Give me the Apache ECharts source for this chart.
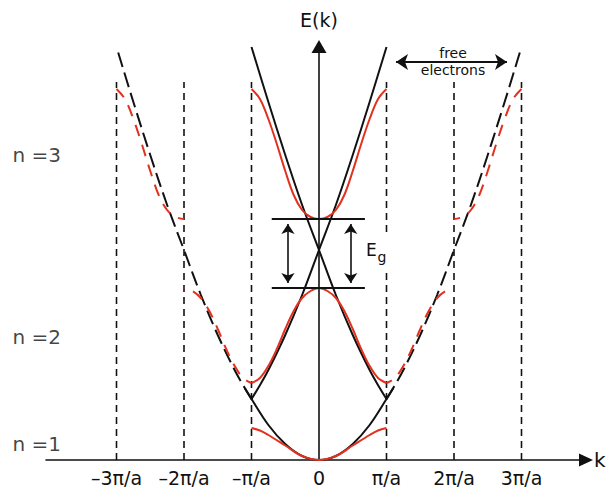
<!DOCTYPE html>
<html>
<head>
<meta charset="utf-8">
<script src="https://cdn.jsdelivr.net/npm/echarts@6/dist/echarts.min.js"></script>
<style>
  html, body { margin: 0; padding: 0; background: #fff; }
  #chart { width: 606px; height: 490px; }
</style>
</head>
<body>
<div id="chart"></div>
<script>
// Free-electron dispersion E(|k|), k in units of pi/a, E in arbitrary units
const freeK = [0, 0.25, 0.5, 0.75, 1, 1.1, 1.25, 1.5, 1.75, 2, 2.25, 2.5, 2.75, 3];
const freeE = [0, 4, 16, 35, 61, 72, 90, 125, 165, 210, 255, 305, 358, 413];

// Nearly-free-electron bands in the reduced zone, |k| from 0 to pi/a
const band1K = [0, 0.25, 0.5, 0.75, 0.875, 1];
const band1E = [0, 4, 14.5, 25, 29.5, 32];
const band2K = [0, 0.125, 0.25, 0.375, 0.5, 0.625, 0.75, 0.875, 1];
const band2E = [172, 169, 162, 149, 131, 111, 94, 82, 77];
const band3K = [0, 0.125, 0.25, 0.375, 0.5, 0.625, 0.75, 0.875, 1];
const band3E = [241, 243, 250, 265, 289, 316, 341, 361, 371];

// Brillouin zone boundaries and axis ticks
const zoneEdges = [-3, -2, -1, 1, 2, 3];
const zoneEdgeTop = 378;
const tickValues = [-3, -2, -1, 0, 1, 2, 3];
const tickLabels = ['\u20133\u03c0/a', '\u20132\u03c0/a', '\u2013\u03c0/a', '0', '\u03c0/a', '2\u03c0/a', '3\u03c0/a'];

// Band index labels and their energies
const levelNames = ['n =1', 'n =2', 'n =3'];
const levelE = [16, 123, 305];

// Gap marker extent (k) and free-electron annotation
const gapSpanK = [-0.70, 0.68];
const gapArrowK = [-0.46, 0.47];
const freeArrowK = [1.052, 2.874];
const freeArrowE = 398;
// the k = pi/a boundary line is interrupted behind the E_g label
const labelBreakEdge = 1;
const labelBreakE = [190, 228];

// ---- styling ----
const BLACK = '#111';
const RED = '#e2311f';
const FONT = 'DejaVu Sans';
const PX = 67.5;           // pixels per pi/a
const EG_HEAD = 10;        // arrowhead length on the gap arrows (px = E units)
const FREE_HEAD = 12;

function pts(ks, es, map) {
  return ks.map((k, i) => map(k, es[i]));
}
function mirrored(ks, es) {
  const right = ks.map((k, i) => [k, es[i]]);
  const left = right.slice(1).map(p => [-p[0], p[1]]).reverse();
  return left.concat(right);
}
function subset(ks, es, lo, hi) {
  const k = [], e = [];
  ks.forEach((v, i) => { if (v >= lo - 1e-9 && v <= hi + 1e-9) { k.push(v); e.push(es[i]); } });
  return [k, e];
}

const [cK, cE] = subset(freeK, freeE, 0, 1.1);
const [oK, oE] = subset(freeK, freeE, 1, 3);

function curve(data, color, dash, z, offset) {
  return {
    type: 'line', data, showSymbol: false, symbol: 'none', smooth: 0.35,
    clip: false, silent: true, z,
    lineStyle: { color, width: 2, type: dash || 'solid', dashOffset: offset || 0, cap: 'butt' }
  };
}

const series = [];

// zone boundaries
zoneEdges.forEach(k => {
  const data = k === labelBreakEdge
    ? [[k, 0], [k, labelBreakE[0]], [k, '-'], [k, labelBreakE[1]], [k, zoneEdgeTop]]
    : [[k, 0], [k, zoneEdgeTop]];
  series.push({
    type: 'line', data, symbol: 'none', silent: true, z: 1, connectNulls: false,
    lineStyle: { color: BLACK, width: 1.6, type: [7, 5] }
  });
});

// free-electron parabolas
series.push(curve(mirrored(cK, cE), BLACK, null, 3));
series.push(curve(pts(oK, oE, (k, e) => [2 - k, e]).reverse(), BLACK, null, 3));
series.push(curve(pts(oK, oE, (k, e) => [k - 2, e]), BLACK, null, 3));
series.push(curve(pts(oK, oE, (k, e) => [k, e]), BLACK, [15, 6], 3));
series.push(curve(pts(oK, oE, (k, e) => [-k, e]), BLACK, [15, 6], 3));

// bands, reduced zone
series.push(curve(mirrored(band1K, band1E), RED, null, 4));
series.push(curve(mirrored(band2K, band2E), RED, null, 4));
series.push(curve(mirrored(band3K, band3E), RED, null, 4));

// bands, extended zone
const RD = [12, 9];
series.push(curve(pts(band2K, band2E, (k, e) => [2 - k, e]).reverse(), RED, RD, 4, 6));
series.push(curve(pts(band2K, band2E, (k, e) => [k - 2, e]).reverse(), RED, RD, 4, 6));
series.push(curve(pts(band3K, band3E, (k, e) => [2 + k, e]), RED, RD, 4, 6));
series.push(curve(pts(band3K, band3E, (k, e) => [-2 - k, e]), RED, RD, 4, 6));

// energy gap lines
const gapLo = band2E[0], gapHi = band3E[0];
[gapLo, gapHi].forEach(E => {
  series.push({
    type: 'line', data: [[gapSpanK[0], E], [gapSpanK[1], E]], symbol: 'none', silent: true, z: 5,
    lineStyle: { color: BLACK, width: 2 }
  });
});

// gap arrows and free-electron arrow
const hk = FREE_HEAD / 2 / PX;
series.push({
  type: 'lines', coordinateSystem: 'cartesian2d', silent: true, z: 6,
  symbol: ['arrow', 'arrow'], symbolSize: EG_HEAD,
  lineStyle: { color: BLACK, width: 1.6, opacity: 1 },
  data: gapArrowK.map(k => ({ coords: [[k, gapLo + EG_HEAD / 2], [k, gapHi - EG_HEAD / 2]] }))
});
series.push({
  type: 'lines', coordinateSystem: 'cartesian2d', silent: true, z: 6,
  symbol: ['arrow', 'arrow'], symbolSize: FREE_HEAD,
  lineStyle: { color: BLACK, width: 2, opacity: 1 },
  data: [{ coords: [[freeArrowK[0] + hk, freeArrowE], [freeArrowK[1] - hk, freeArrowE]] }]
});

// band index labels
series.push({
  type: 'scatter', clip: false, silent: true, symbolSize: 1, z: 6,
  itemStyle: { color: 'rgba(0,0,0,0)' },
  data: levelE.map((E, i) => ({ value: [-4.548, E], name: levelNames[i] })),
  label: {
    show: true, position: 'right', distance: 0, formatter: p => p.name,
    color: BLACK, fontFamily: FONT, fontSize: 20
  }
});

const chart = echarts.init(document.getElementById('chart'), null, { renderer: 'svg' });
chart.setOption({
  animation: false,
  backgroundColor: '#fff',
  grid: { left: 46, right: 20, top: 46.5, bottom: 30, containLabel: false, outerBoundsMode: 'none' },
  xAxis: {
    type: 'value', min: -273 / PX, max: 267 / PX,
    name: 'k', nameLocation: 'end', nameGap: 8,
    nameTextStyle: { color: BLACK, fontFamily: FONT, fontSize: 20 },
    axisLine: { onZero: true, lineStyle: { color: BLACK, width: 1.6 }, symbol: ['none', 'triangle'], symbolSize: [13, 14] },
    axisTick: { show: false },
    splitLine: { show: false },
    axisLabel: {
      customValues: tickValues, margin: 8, lineHeight: 19,
      formatter: v => tickLabels[tickValues.indexOf(Math.round(v))],
      color: BLACK, fontFamily: FONT, fontSize: 19
    }
  },
  yAxis: {
    type: 'value', min: 0, max: 413.5,
    name: 'E(k)', nameLocation: 'end', nameGap: 17,
    nameTextStyle: { color: BLACK, fontFamily: FONT, fontSize: 19 },
    axisLine: { onZero: true, lineStyle: { color: BLACK, width: 1.6 }, symbol: ['none', 'triangle'], symbolSize: [15, 13] },
    axisTick: { show: false },
    splitLine: { show: false },
    axisLabel: { show: false }
  },
  graphic: [
    { type: 'text', x: 453, y: 53, style: { text: 'free', fill: BLACK, font: '14px "DejaVu Sans"', align: 'center', verticalAlign: 'middle' } },
    { type: 'text', x: 453, y: 70, style: { text: 'electrons', fill: BLACK, font: '14px "DejaVu Sans"', align: 'center', verticalAlign: 'middle' } },
    { type: 'text', x: 366, y: 250, style: { text: 'E', fill: BLACK, font: '17px "DejaVu Sans"', align: 'left', verticalAlign: 'middle' } },
    { type: 'text', x: 377.5, y: 257, style: { text: 'g', fill: BLACK, font: '14px "DejaVu Sans"', align: 'left', verticalAlign: 'middle' } }
  ],
  series
});
</script>
</body>
</html>
